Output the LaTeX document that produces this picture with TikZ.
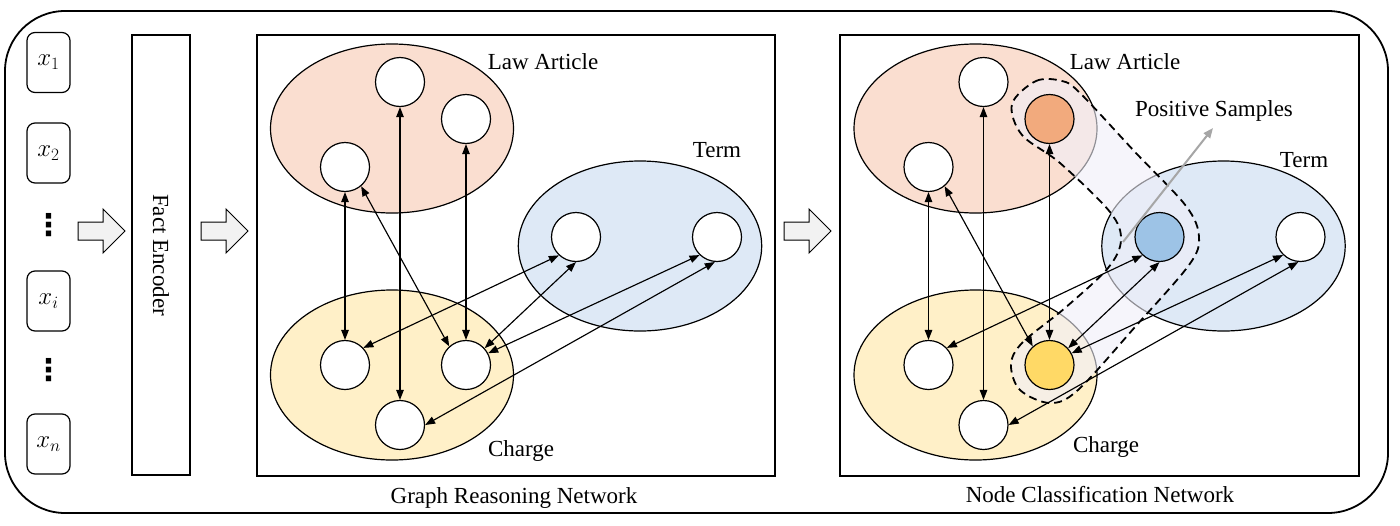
\documentclass[tikz,border=0pt]{standalone}
\usepackage{fontspec}
\setmainfont{Liberation Serif}
\newfontfamily\dotsfont{DejaVu Sans}
\usetikzlibrary{arrows.meta}
\definecolor{lawfill}{RGB}{250,222,208}
\definecolor{termfill}{RGB}{222,233,246}
\definecolor{chargefill}{RGB}{255,240,200}
\definecolor{orangenode}{RGB}{242,170,125}
\definecolor{bluenode}{RGB}{157,195,230}
\definecolor{yellownode}{RGB}{255,217,102}
\definecolor{bandfill}{RGB}{240,239,249}
\definecolor{arrowgray}{RGB}{166,166,166}
\definecolor{blockfill}{RGB}{242,242,242}

\newcommand\mkellipses{%
  \draw[grp, fill=lawfill] (392,128.5) ellipse [x radius=121.5pt, y radius=84.5pt];
  \draw[grp, fill=termfill] (640,246) ellipse [x radius=121.7pt, y radius=85pt];
  \draw[grp, fill=chargefill] (392,375) ellipse [x radius=121.5pt, y radius=85pt];
}
\newcommand\mkgraphnodes[4]{%
  \node[gnode] (#1L1) at (400,82) {};
  \node[gnode, fill=#2] (#1L2) at (466,119) {};
  \node[gnode] (#1L3) at (345,167) {};
  \node[gnode, fill=#3] (#1T1) at (576,237) {};
  \node[gnode] (#1T2) at (717,237) {};
  \node[gnode] (#1C1) at (345,365) {};
  \node[gnode, fill=#4] (#1C2) at (466,365) {};
  \node[gnode] (#1C3) at (400,425) {};
}
\newcommand\mkgraphedges[1]{%
  \draw[biarrow] (#1L3.south) -- (#1C1.north);
  \draw[biarrow] (#1L1.south) -- (#1C3.north);
  \draw[biarrow] (#1L2.south) -- (#1C2.north);
  \draw[biarrow] (#1L3.-50) -- (#1C2.132);
  \draw[biarrow] (#1C1.43) -- (#1T1.-133);
  \draw[biarrow] (#1C2.42) -- (#1T1.-90);
  \draw[biarrow] (#1C2.28) -- (#1T2.-134);
  \draw[biarrow] (#1C3.east) -- (#1T2.-95);
}
\newcommand\mkblockarrow[1]{%
  \draw[blockarrow] (#1,222) -- ++(25,0) -- ++(0,-13) -- ++(22,22) -- ++(-22,22) -- ++(0,-13) -- ++(-25,0) -- cycle;
}

\begin{document}
\begin{tikzpicture}[x=1pt,y=-1pt,
  >={Triangle[length=10pt,width=7.5pt]},
  gnode/.style={circle, draw, line width=1.2pt, fill=white, minimum size=49pt, inner sep=0pt},
  grp/.style={draw, line width=1.2pt},
  biarrow/.style={<->, line width=1.15pt},
  txt/.style={font=\fontsize{23}{27}\selectfont, anchor=base, inner sep=0pt},
  inbox/.style={draw, line width=1.2pt, rounded corners=8pt, minimum width=43pt, minimum height=60pt, inner sep=0pt, font=\fontsize{26}{30}\selectfont},
  vdotsnode/.style={font=\dotsfont\bfseries\fontsize{30}{30}\selectfont, inner sep=0pt},
  panel/.style={draw, line width=1.4pt},
  blockarrow/.style={draw, line width=1pt, fill=blockfill, line join=miter},
  bandpath/.style={smooth cycle, tension=0.55}
]
\useasboundingbox (0,0) rectangle (1400,525);
\fill[white] (0,0) rectangle (1400,525);

% outer frame
\draw[line width=1.8pt, rounded corners=60pt] (5,11) rectangle (1388,513);

% inputs
\node[inbox] (x1) at (48.5,62.5) {$x_1$};
\node[inbox] (x2) at (48.5,153) {$x_2$};
\node[vdotsnode] (d1) at (48.5,225) {⋮};
\node[inbox] (xi) at (48.5,301) {$x_i$};
\node[vdotsnode] (d2) at (48.5,370) {⋮};
\node[inbox] (xn) at (48.5,444) {$x_n$};

\mkblockarrow{78}
\node[draw, line width=1.2pt, rotate=-90, minimum width=440pt, minimum height=58pt, inner sep=0pt,
      font=\fontsize{23}{27}\selectfont] (enc) at (161,255) {Fact Encoder};
\mkblockarrow{201}

% middle panel
\draw[panel] (257,35) rectangle (775,476);
\mkellipses
\mkgraphnodes{a}{white}{white}{white}
\mkgraphedges{a}
\node[txt] (aLaw) at (543,69) {Law Article};
\node[txt] (aTerm) at (717,157) {Term};
\node[txt] (aCharge) at (521,456) {Charge};
\node[txt] (aCap) at (514,503) {Graph Reasoning Network};

\mkblockarrow{784}

% right panel
\draw[panel] (840,35) rectangle (1359,476);
\begin{scope}[xshift=583.5pt]
\mkellipses
\end{scope}
\fill[bandfill, fill opacity=0.6] plot[bandpath] coordinates {
  (1012,104) (1036,81) (1062,81) (1080,93) (1135,152) (1186,206) (1199,237) (1189,265)
  (1135,327) (1078,390) (1050,403) (1020,390) (1011,365) (1022,343) (1065,308) (1108,268)
  (1121,240) (1110,212) (1060,163) (1022,135)};
\draw[line width=1.8pt, dash pattern=on 8pt off 5pt] plot[bandpath] coordinates {
  (1012,104) (1036,81) (1062,81) (1080,93) (1135,152) (1186,206) (1199,237) (1189,265)
  (1135,327) (1078,390) (1050,403) (1020,390) (1011,365) (1022,343) (1065,308) (1108,268)
  (1121,240) (1110,212) (1060,163) (1022,135)};
\begin{scope}[xshift=583.5pt]
\mkgraphnodes{b}{orangenode}{bluenode}{yellownode}
\end{scope}
\mkgraphedges{b}
\coordinate (gs) at (1123,242);
\coordinate (gt) at (1213,128);
\draw[arrowgray, line width=2pt, -{Triangle[length=10pt,width=8pt]}] (gs) -- (gt);
\node[txt] (bLaw) at (1125,69) {Law Article};
\node[txt] (bPos) at (1214,116) {Positive Samples};
\node[txt] (bTerm) at (1304,167) {Term};
\node[txt] (bCharge) at (1106,452) {Charge};
\node[txt] (bCap) at (1100,502) {Node Classification Network};
\end{tikzpicture}
\end{document}
